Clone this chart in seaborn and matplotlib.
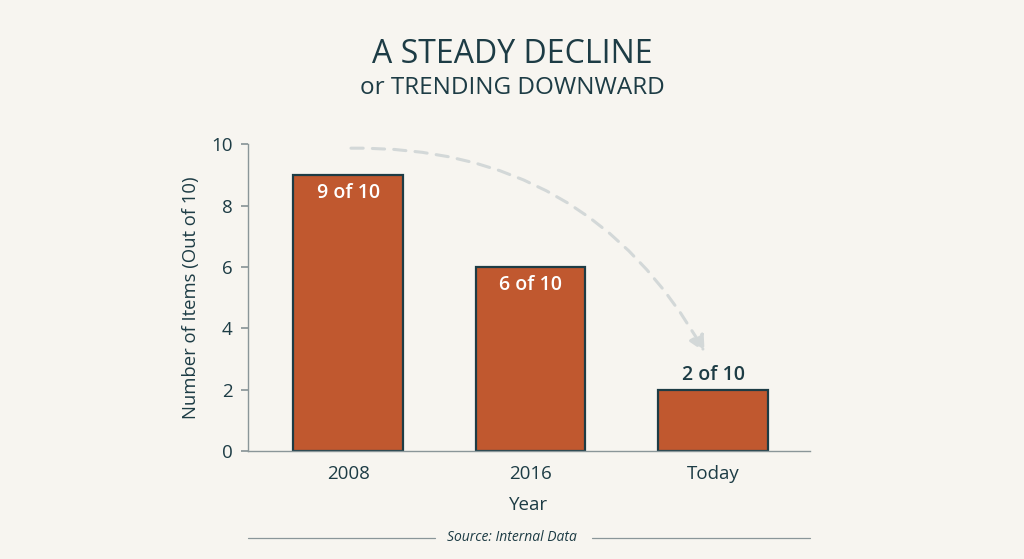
import matplotlib
matplotlib.use("Agg")
import matplotlib.pyplot as plt
import seaborn as sns
import pandas as pd

years = ["2008", "2016", "Today"]
items = [9, 6, 2]
bar_labels = ["9 of 10", "6 of 10", "2 of 10"]

bg = "#f7f5f0"
bar_col = "#c0582f"
ink = "#1d3c45"

sns.set_theme(style="white")
plt.rcParams['font.family'] = ['Open Sans', 'DejaVu Sans']

df = pd.DataFrame({"Year": years, "Items": items})

fig = plt.figure(figsize=(10.24, 5.59), dpi=100, facecolor=bg)
ax = fig.add_axes([0.242, 0.193, 0.549, 0.549])
ax.set_facecolor(bg)

sns.barplot(data=df, x="Year", y="Items", color=bar_col, width=0.6,
            edgecolor=ink, linewidth=1.6, saturation=1, ax=ax)

ax.set_ylim(0, 10)
ax.set_xlim(-0.55, 2.53)
ax.set_yticks([0, 2, 4, 6, 8, 10])
for s in ["top", "right"]:
    ax.spines[s].set_visible(False)
ax.spines["left"].set_color("#8a9699")
ax.spines["bottom"].set_color("#8a9699")
ax.spines["left"].set_linewidth(1.0)
ax.spines["bottom"].set_linewidth(1.0)
ax.tick_params(axis="y", which="both", left=True, length=5, color="#8a9699",
               labelsize=13.5, labelcolor=ink, pad=6)
ax.tick_params(axis="x", bottom=False, labelsize=13.5, labelcolor=ink, pad=4)
ax.set_xlabel("Year", fontsize=13.5, color=ink, labelpad=9)
ax.set_ylabel("Number of Items (Out of 10)", fontsize=13.3, color=ink, labelpad=8)

# value labels
for i, (v, lab) in enumerate(zip(items, bar_labels)):
    if v >= 4:
        ax.text(i, v - 0.6, lab, ha="center", va="center", color="white",
                fontsize=14, fontweight="semibold")
    else:
        ax.text(i, v + 0.48, lab, ha="center", va="center", color=ink,
                fontsize=14, fontweight="semibold")

# trend arrow
ax.annotate("", xy=(1.96, 3.15), xytext=(0.0, 9.87),
            arrowprops=dict(arrowstyle="-|>,head_width=0.4,head_length=0.8",
                            color="#d3d8d8", lw=2.2, linestyle=(0, (4, 3)),
                            connectionstyle="arc3,rad=-0.3"),
            annotation_clip=False)

# titles
fig.text(0.5, 0.902, "A STEADY DECLINE", ha="center", va="center",
         fontsize=23, color=ink)
fig.text(0.5, 0.843, "or TRENDING DOWNWARD", ha="center", va="center",
         fontsize=17.5, color=ink)

# source line
fig.text(0.5, 0.038, "Source: Internal Data", ha="center", va="center",
         fontsize=10, style="italic", color=ink)
fig.add_artist(plt.Line2D([0.242, 0.425], [0.038, 0.038], color="#8a9699", lw=0.9))
fig.add_artist(plt.Line2D([0.578, 0.791], [0.038, 0.038], color="#8a9699", lw=0.9))

fig.savefig("out.png", dpi=100, facecolor=bg)
